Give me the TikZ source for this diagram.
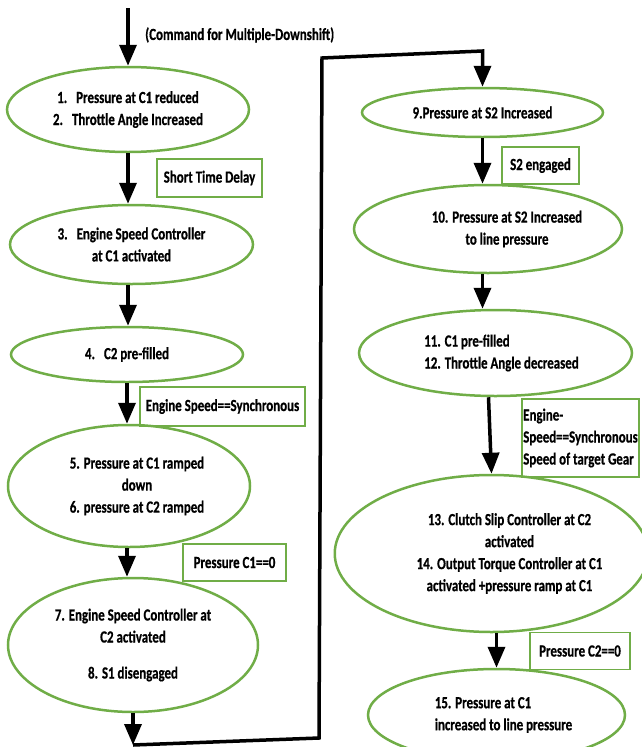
\documentclass[tikz,border=0pt]{standalone}
\usepackage{fontspec}
\setmainfont{Carlito}[FakeStretch=0.76,FakeBold=0.6]
\usetikzlibrary{shapes.geometric,arrows.meta}
\definecolor{stagegreen}{RGB}{112,173,71}
\newcommand{\pushright}[1]{\hspace*{#1}}

\begin{document}
\begin{tikzpicture}[x=1pt,y=-1pt,
    font=\fontsize{17}{22}\selectfont\bfseries,
    stage/.style={ellipse,draw=stagegreen,line width=2.5pt,inner sep=0pt,align=center},
    cond/.style={rectangle,draw=stagegreen,line width=1.5pt,inner sep=0pt,align=left},
    flow/.style={line width=3.5pt,line join=miter,-{Triangle[width=17pt,length=21pt]}}]
    \useasboundingbox (0,0) rectangle (641,747);

    \coordinate (start) at (128,8);
    \node [anchor=west,inner sep=0pt] (cmd) at (145,35) {(Command for Multiple-Downshift)};

    \node [stage,minimum width=242pt,minimum height=85pt] (e1) at (128,109.5)
        {1.\hspace{9pt}Pressure at C1 reduced\\2.\hspace{9pt}Throttle Angle Increased};
    \node [stage,minimum width=243pt,minimum height=79pt] (e3) at (131.5,244.5)
        {3.\hspace{9pt}Engine Speed Controller\\at C1 activated};
    \node [stage,minimum width=232pt,minimum height=55pt] (e4) at (127,354.5)
        {4.\hspace{9pt}C2 pre-filled};
    \node [stage,minimum width=242pt,minimum height=122pt] (e5) at (129,486)
        {\pushright{16pt}5. Pressure at C1 ramped\\\pushright{16pt}down\\\pushright{16pt}6. pressure at C2 ramped};
    \node [stage,minimum width=250pt,minimum height=134pt] (e7) at (133,645)
        {7. Engine Speed Controller at\\C2 activated\\[14pt]8. S1 disengaged};

    \node [stage,minimum width=241pt,minimum height=49pt] (e9) at (482.5,112.5)
        {9.Pressure at S2 Increased};
    \node [stage,minimum width=268pt,minimum height=88pt] (e10) at (488,229)
        {\pushright{38pt}10. Pressure at S2 Increased\\\pushright{38pt}to line pressure};
    \node [stage,minimum width=273pt,minimum height=86pt,align=left] (e11) at (495.5,353)
        {\pushright{12pt}11. C1 pre-filled\\\pushright{12pt}12. Throttle Angle decreased};
    \node [stage,minimum width=293pt,minimum height=157pt] (e13) at (491.5,553.5)
        {\pushright{36pt}13. Clutch Slip Controller at C2\\\pushright{36pt}activated\\
         \pushright{36pt}14. Output Torque Controller at C1\\\pushright{36pt}activated +pressure ramp at C1};
    \node [stage,minimum width=257pt,minimum height=92pt,align=left] (e15) at (496.5,715)
        {\pushright{14pt}15. Pressure at C1\\\pushright{14pt}increased to line pressure};

    \node [cond,minimum width=105pt,minimum height=38pt] (d1) at (209.5,178) {Short Time Delay};
    \node [cond,minimum width=165pt,minimum height=39pt] (d2) at (222.5,406.5) {Engine Speed==Synchronous};
    \node [cond,minimum width=103pt,minimum height=37pt] (d3) at (234.5,562.5) {Pressure C1==0};
    \node [cond,minimum width=77pt,minimum height=37pt] (d4) at (540.5,165.5) {S2 engaged};
    \node [cond,minimum width=117pt,minimum height=78pt] (d5) at (580.5,438)
        {Engine-\\Speed==Synchronous\\Speed of target Gear};
    \node [cond,minimum width=100pt,minimum height=37pt] (d6) at (580,651) {Pressure C2==0};

    \draw [flow] (start) -- (start |- e1.north);
    \draw [flow] (e1.south) -- (e1.south |- e3.north);
    \draw [flow] (e3.south -| e1) -- (e1 |- e4.north);
    \draw [flow] (e4.south) -- (e4.south |- e5.north);
    \draw [flow] (e5.south -| e4) -- (e4 |- e7.north);

    \coordinate (c1) at (133,745);
    \coordinate (c2) at (319,738);
    \coordinate (c3) at (322,58);
    \coordinate (c4) at (482.5,51);
    \draw [flow] (e7.south) -- (c1);
    \draw [flow] (c1) -- (c2) -- (c3) -- (c4) -- (c4 |- e9.north);

    \draw [flow] (e9.south) -- (e9.south |- e10.north);
    \draw [flow] (e10.south -| e9) -- (e9 |- e11.north);
    \draw [flow] ([xshift=-7pt]e11.south) -- (e13.north);
    \draw [flow] (e15.north |- e13.south) -- (e15.north);
\end{tikzpicture}
\end{document}
